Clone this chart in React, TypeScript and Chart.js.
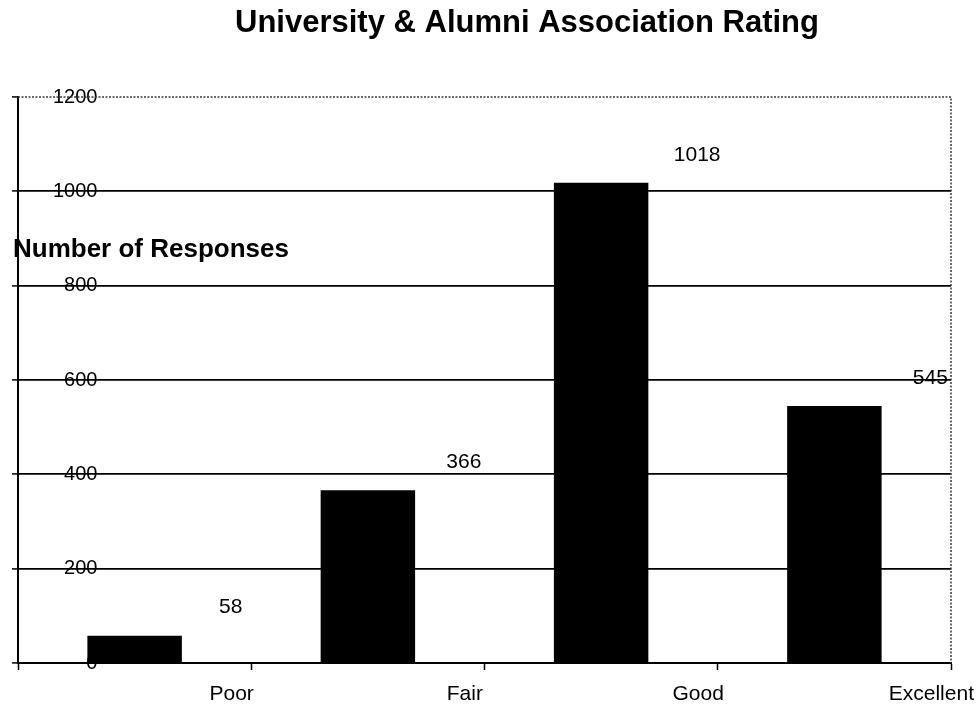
import { useEffect, useRef } from "react";
import { Chart, registerables } from "chart.js";

Chart.register(...registerables);

const categories = ["Poor", "Fair", "Good", "Excellent"];
const responses = [58, 366, 1018, 545];
const yMin = 0;
const yMax = 1200;
const yStep = 200;

const chartTitle = "University & Alumni Association Rating";
const yAxisTitle = "Number of Responses";

const FONT = '"Liberation Sans", Arial, Helvetica, sans-serif';

export default function App() {
  const canvasRef = useRef<HTMLCanvasElement>(null);

  useEffect(() => {
    const canvas = canvasRef.current;
    if (!canvas) return;

    // Category and value labels sit to the right of each bar, near the tick.
    const labelShift = 97;

    const annotations = {
      id: "annotations",
      afterDatasetsDraw(chart: any) {
        const { ctx, chartArea } = chart;
        ctx.save();

        // dotted frame along the top and right of the plot
        ctx.strokeStyle = "#3a3a3a";
        ctx.lineWidth = 1.5;
        ctx.setLineDash([2, 1.5]);
        ctx.beginPath();
        ctx.moveTo(chartArea.left, chartArea.top);
        ctx.lineTo(chartArea.right, chartArea.top);
        ctx.lineTo(chartArea.right, chartArea.bottom);
        ctx.stroke();
        ctx.setLineDash([]);

        // value labels
        ctx.fillStyle = "#000";
        ctx.font = `21px ${FONT}`;
        ctx.textAlign = "center";
        ctx.textBaseline = "middle";
        const meta = chart.getDatasetMeta(0);
        meta.data.forEach((bar: any, i: number) => {
          ctx.fillText(String(responses[i]), bar.x + labelShift - 1, bar.y - 28);
        });

        // chart title
        ctx.font = `bold 31px ${FONT}`;
        ctx.textBaseline = "alphabetic";
        ctx.textAlign = "center";
        ctx.fillText(chartTitle, 527, 32);

        // horizontal axis title over the value axis
        ctx.font = `bold 26px ${FONT}`;
        ctx.textAlign = "left";
        ctx.fillText(yAxisTitle, 13, 257);

        ctx.restore();
      },
    };

    const chart = new Chart(canvas, {
      type: "bar",
      data: {
        labels: categories,
        datasets: [
          {
            data: responses,
            backgroundColor: "#000",
            borderWidth: 0,
            barPercentage: 0.405,
            categoryPercentage: 1,
          },
        ],
      },
      options: {
        responsive: false,
        animation: false,
        layout: { padding: { top: 97, left: 12, right: 28, bottom: 0 } },
        plugins: {
          legend: { display: false },
          tooltip: { enabled: false },
          title: { display: false },
        },
        scales: {
          x: {
            type: "category",
            offset: true,
            grid: {
              offset: true,
              drawOnChartArea: false,
              drawTicks: true,
              tickLength: 7,
              tickColor: "#000",
              tickWidth: 1.5,
            },
            border: { display: true, color: "#000", width: 2 },
            ticks: {
              color: "#000",
              font: { family: FONT, size: 21 },
              labelOffset: labelShift,
              padding: 12,
              maxRotation: 0,
              autoSkip: false,
            },
            afterFit(scale: any) {
              scale.height = 42;
              scale.paddingLeft = 0;
              scale.paddingRight = 0;
            },
          },
          y: {
            min: yMin,
            max: yMax,
            ticks: {
              stepSize: yStep,
              mirror: true,
              crossAlign: "far",
              padding: 35,
              color: "#000",
              font: { family: FONT, size: 20 },
              callback: (v: any) => String(v),
            },
            grid: {
              color: (c: any) =>
                c.tick && c.tick.value === yMax ? "rgba(0,0,0,0)" : "#000",
              lineWidth: 1.8,
              drawTicks: true,
              tickLength: 6,
              tickColor: "#000",
              tickWidth: 1.5,
            },
            border: { display: true, color: "#000", width: 2 },
            afterFit(scale: any) {
              scale.width = 6;
              scale.paddingTop = 0;
              scale.paddingBottom = 0;
            },
          },
        },
      },
      plugins: [annotations],
    });

    return () => chart.destroy();
  }, []);

  return (
    <div
      style={{
        position: "absolute",
        left: 0,
        top: 0,
        width: 979,
        height: 705,
        background: "#fff",
      }}
    >
      <canvas ref={canvasRef} width={979} height={705} />
    </div>
  );
}
